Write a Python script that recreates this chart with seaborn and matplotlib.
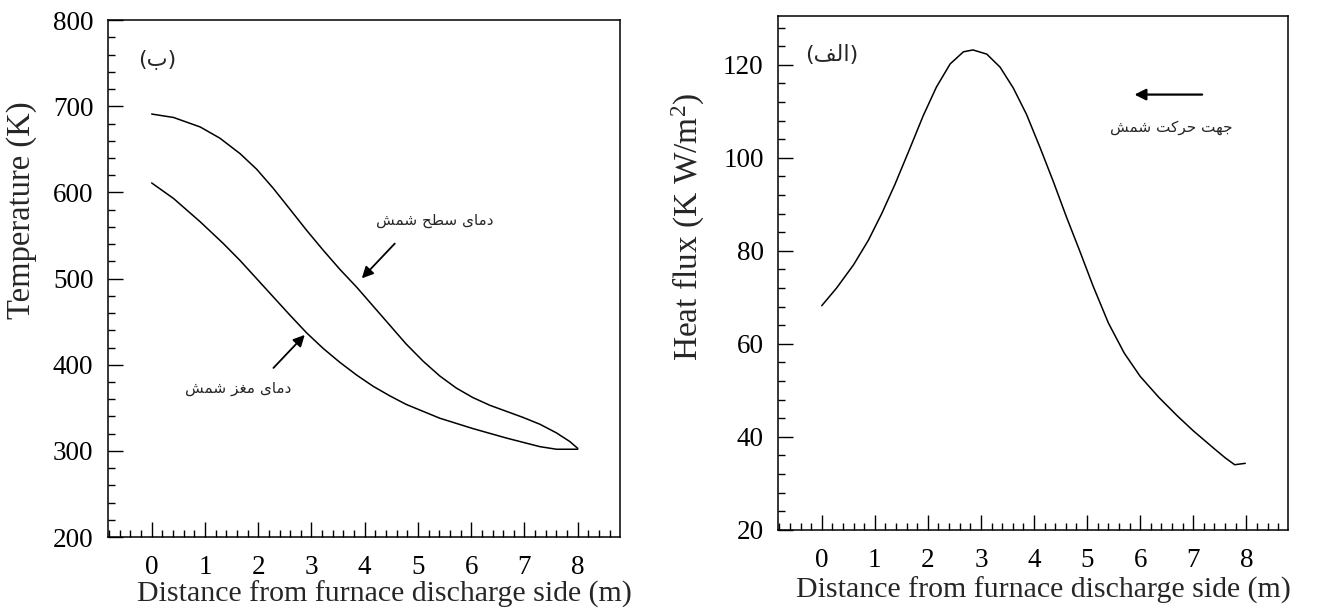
import matplotlib
matplotlib.use("Agg")
import matplotlib.pyplot as plt
import seaborn as sns
import pandas as pd
from matplotlib.ticker import MultipleLocator

# values
dist_surface = [0.0, 0.41, 0.91, 1.28, 1.66, 1.97, 2.28, 2.59, 2.91, 3.22, 3.53, 3.85, 4.16,
                4.47, 4.78, 5.1, 5.41, 5.72, 6.03, 6.35, 6.66, 6.97, 7.29, 7.6, 7.85, 8.0]
temp_surface = [691, 687, 676, 663, 645, 627, 605, 581, 556, 533, 511, 490, 468,
                446, 424, 404, 387, 373, 362, 353, 346, 339, 331, 321, 311, 303]

dist_core = [0.0, 0.41, 0.91, 1.34, 1.66, 1.97, 2.28, 2.59, 2.91, 3.22, 3.53, 3.85, 4.16,
             4.47, 4.78, 5.41, 6.03, 6.66, 7.29, 7.6, 8.0]
temp_core = [611, 593, 566, 541, 521, 500, 479, 458, 437, 419, 403, 388, 375,
             364, 354, 338, 326, 315, 305, 302, 302]

dist_flux = [0.0, 0.28, 0.6, 0.88, 1.13, 1.38, 1.66, 1.91, 2.16, 2.42, 2.67, 2.85, 3.11,
             3.36, 3.61, 3.86, 4.11, 4.36, 4.61, 4.86, 5.11, 5.4, 5.7, 6.0, 6.35, 6.7,
             7.0, 7.39, 7.6, 7.78, 7.98]
heat_flux = [68.2, 72.0, 77.0, 82.3, 88.0, 94.3, 102.0, 109.0, 115.2, 120.2, 122.8, 123.2, 122.3,
             119.5, 115.0, 109.3, 102.3, 95.0, 87.3, 80.0, 72.5, 64.5, 58.0, 53.0, 48.5, 44.5,
             41.3, 37.5, 35.5, 34.0, 34.3]

label_surface = "دمای سطح شمش"
label_core = "دمای مغز شمش"
label_motion = "جهت حرکت شمش"
tag_left = "(ب)"
tag_right = "(الف)"

# matplotlib has no arabic shaping, so pick the presentation forms by hand
# (isolated, final, initial, medial)
FORMS = {
    "ا": ("\uFE8D", "\uFE8E", None, None),
    "ب": ("\uFE8F", "\uFE90", "\uFE91", "\uFE92"),
    "ت": ("\uFE95", "\uFE96", "\uFE97", "\uFE98"),
    "ج": ("\uFE9D", "\uFE9E", "\uFE9F", "\uFEA0"),
    "ح": ("\uFEA1", "\uFEA2", "\uFEA3", "\uFEA4"),
    "د": ("\uFEA9", "\uFEAA", None, None),
    "ر": ("\uFEAD", "\uFEAE", None, None),
    "ز": ("\uFEAF", "\uFEB0", None, None),
    "س": ("\uFEB1", "\uFEB2", "\uFEB3", "\uFEB4"),
    "ش": ("\uFEB5", "\uFEB6", "\uFEB7", "\uFEB8"),
    "ط": ("\uFEC1", "\uFEC2", "\uFEC3", "\uFEC4"),
    "غ": ("\uFECD", "\uFECE", "\uFECF", "\uFED0"),
    "ف": ("\uFED1", "\uFED2", "\uFED3", "\uFED4"),
    "ل": ("\uFEDD", "\uFEDE", "\uFEDF", "\uFEE0"),
    "م": ("\uFEE1", "\uFEE2", "\uFEE3", "\uFEE4"),
    "ه": ("\uFEE9", "\uFEEA", "\uFEEB", "\uFEEC"),
    "ک": ("\uFB8E", "\uFB8F", "\uFB90", "\uFB91"),
    "ی": ("\uFBFC", "\uFBFD", "\uFBFE", "\uFBFF"),
}


def shape_rtl(text):
    out = []
    for i, ch in enumerate(text):
        if ch not in FORMS:
            out.append(ch)
            continue
        iso, fin, ini, med = FORMS[ch]
        prev = text[i - 1] if i > 0 else ""
        nxt = text[i + 1] if i < len(text) - 1 else ""
        join_prev = prev in FORMS and FORMS[prev][2] is not None
        join_next = nxt in FORMS and ini is not None
        if join_prev and join_next:
            out.append(med)
        elif join_prev:
            out.append(fin)
        elif join_next:
            out.append(ini)
        else:
            out.append(iso)
    mirror = {"(": ")", ")": "("}
    return "".join(mirror.get(c, c) for c in reversed(out))


sns.set_style("ticks")
plt.rcParams["font.family"] = ["Liberation Serif", "DejaVu Serif"]
plt.rcParams["mathtext.fontset"] = "custom"
plt.rcParams["mathtext.rm"] = "Liberation Serif"
plt.rcParams["mathtext.it"] = "Liberation Serif"
fa_font = ["DejaVu Sans"]

df_temp = pd.concat([
    pd.DataFrame({"x": dist_surface, "y": temp_surface, "curve": "surface"}),
    pd.DataFrame({"x": dist_core, "y": temp_core, "curve": "core"}),
])
df_flux = pd.DataFrame({"x": dist_flux, "y": heat_flux})

fig = plt.figure(figsize=(13.19, 6.09), dpi=100)
ax1 = fig.add_axes([0.0819, 0.118, 0.388, 0.849])
ax2 = fig.add_axes([0.590, 0.130, 0.3867, 0.8445])

sns.lineplot(data=df_temp, x="x", y="y", units="curve", estimator=None,
             sort=False, color="black", lw=1.1, ax=ax1)
sns.lineplot(data=df_flux, x="x", y="y", sort=False, color="black", lw=1.1, ax=ax2)

ax1.set_ylim(200, 800)
ax1.yaxis.set_major_locator(MultipleLocator(100))
ax1.yaxis.set_minor_locator(MultipleLocator(20))
ax2.set_ylim(20, 130.6)
ax2.yaxis.set_major_locator(MultipleLocator(20))
ax2.yaxis.set_minor_locator(MultipleLocator(4))

for ax in (ax1, ax2):
    ax.set_xlim(-0.82, 8.79)
    ax.xaxis.set_major_locator(MultipleLocator(1))
    ax.xaxis.set_minor_locator(MultipleLocator(0.2))
    for s in ax.spines.values():
        s.set_visible(True)
        s.set_linewidth(1.1)
        s.set_color("black")
    ax.tick_params(which="both", direction="in", top=False, right=False,
                   colors="black", labelsize=19.5, width=1.0)
    ax.tick_params(which="major", length=11)
    ax.tick_params(which="minor", length=5)
    ax.tick_params(axis="x", pad=13)
    ax.tick_params(axis="y", pad=10.5)
    ax.set_xlabel("Distance from furnace discharge side (m)", fontsize=21.5)

ax1.set_ylabel("Temperature (K)", fontsize=23.5)
ax2.set_ylabel(r"Heat flux (K W/m$^2$)", fontsize=24)
ax1.xaxis.set_label_coords(0.541, -0.0845)
ax2.xaxis.set_label_coords(0.52, -0.092)
ax1.yaxis.set_label_coords(-0.139, 0.632)
ax2.yaxis.set_label_coords(-0.139, 0.588)

# left panel annotations
ax1.text(0.1, 755, shape_rtl(tag_left), family=fa_font, fontsize=16,
         ha="center", va="center")
ax1.annotate("", xy=(3.91, 498), xytext=(4.6, 543),
             arrowprops=dict(arrowstyle="-|>", color="black", lw=1.3, mutation_scale=17))
ax1.text(5.31, 567, shape_rtl(label_surface), family=fa_font, fontsize=11,
         ha="center", va="center")
ax1.annotate("", xy=(2.91, 437), xytext=(2.25, 394),
             arrowprops=dict(arrowstyle="-|>", color="black", lw=1.3, mutation_scale=17))
ax1.text(1.63, 372, shape_rtl(label_core), family=fa_font, fontsize=11,
         ha="center", va="center")

# right panel annotations
ax2.text(0.19, 122.2, shape_rtl(tag_right), family=fa_font, fontsize=16,
         ha="center", va="center")
ax2.annotate("", xy=(5.84, 113.6), xytext=(7.22, 113.6),
             arrowprops=dict(arrowstyle="-|>", color="black", lw=1.6, mutation_scale=17))
ax2.text(6.59, 106.5, shape_rtl(label_motion), family=fa_font, fontsize=11,
         ha="center", va="center")

fig.savefig("out.png", dpi=100)
